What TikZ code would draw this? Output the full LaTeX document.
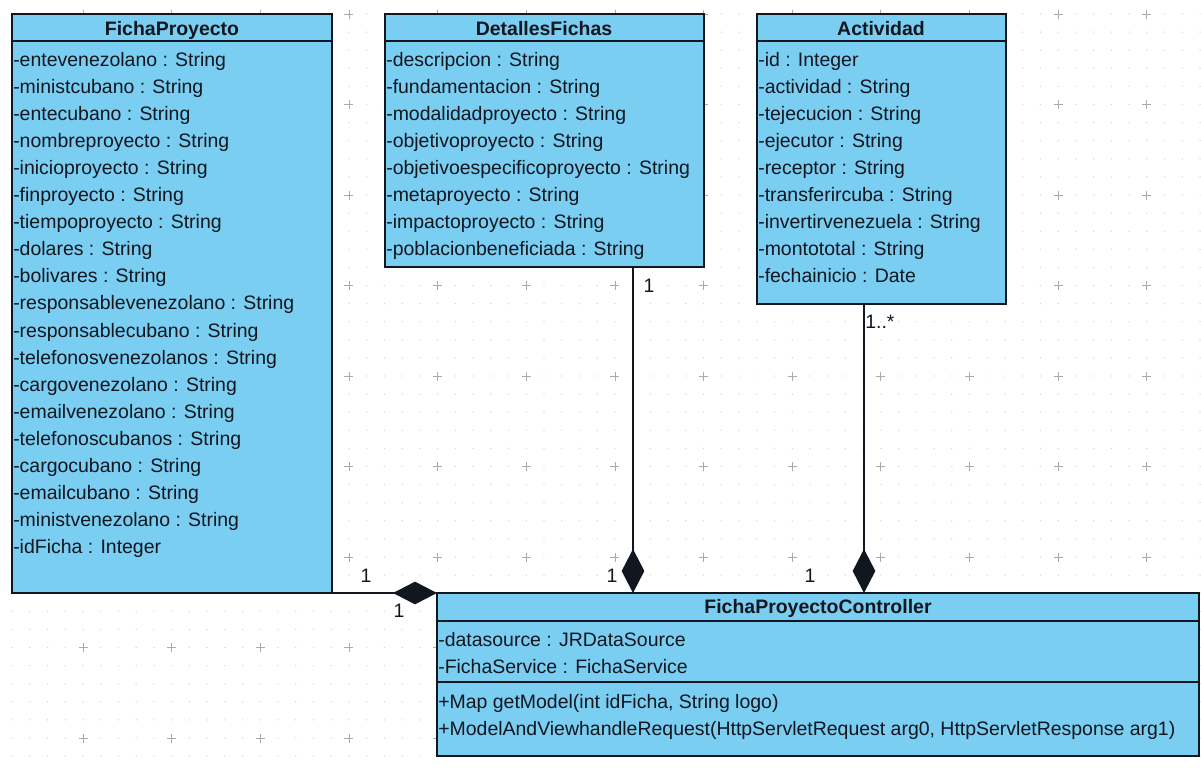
\documentclass[tikz,border=0pt]{standalone}
\usepackage{fontspec}
\setmainfont{Liberation Sans}
\usetikzlibrary{arrows.meta}

\definecolor{classfill}{RGB}{122,206,242}
\definecolor{ink}{RGB}{18,22,30}
\definecolor{gridplus}{RGB}{170,170,170}
\definecolor{griddot}{RGB}{212,212,212}

\newcommand{\umlfont}{\fontsize{14.6}{18}\selectfont}

\tikzset{
  umlbox/.style={draw=ink, fill=classfill, line width=1.4pt, inner sep=0pt, outer sep=0pt, anchor=north west},
  classtitle/.style={font=\umlfont\bfseries, text=ink, anchor=base, inner sep=0pt},
  member/.style={font=\umlfont, text=ink, anchor=base west, inner sep=0pt},
  mult/.style={font=\umlfont, text=ink, anchor=base, inner sep=0pt},
  sepline/.style={draw=ink, line width=1.4pt},
  comp/.style={draw=ink, line width=1.1pt, -{Diamond[length=33pt,width=17pt,fill=ink]}},
}

\begin{document}
\begin{tikzpicture}[x=0.75pt,y=-0.75pt]
\useasboundingbox (0,0) rectangle (1201,771);
\fill[white] (0,0) rectangle (1201,771);

% drawing-canvas grid: faint dots and plus marks
\foreach \k in {-4,...,63}
  \foreach \j in {-1,...,42}
    \fill[griddot] ({83+17.73*\k},{14+18.1*\j}) circle (0.55pt);
\foreach \k in {-1,...,12}
  \foreach \j in {0,...,8}
    \draw[gridplus, line width=0.6pt]
      ({83+88.65*\k-4.5},{14+90.5*\j}) -- ++(9,0)
      ({83+88.65*\k},{14+90.5*\j-4.5}) -- ++(0,9);

% ---- FichaProyecto ----
\node[umlbox, minimum width=320*0.75pt, minimum height=579*0.75pt] (fp) at (12,14) {};
\draw[sepline] (12,41) -- (332,41);
\node[classtitle] (fp-t) at (172,35) {FichaProyecto};
\foreach \t [count=\i from 0] in {
  -entevenezolano : String,
  -ministcubano : String,
  -entecubano : String,
  -nombreproyecto : String,
  -inicioproyecto : String,
  -finproyecto : String,
  -tiempoproyecto : String,
  -dolares : String,
  -bolivares : String,
  -responsablevenezolano : String,
  -responsablecubano : String,
  -telefonosvenezolanos : String,
  -cargovenezolano : String,
  -emailvenezolano : String,
  -telefonoscubanos : String,
  -cargocubano : String,
  -emailcubano : String,
  -ministvenezolano : String,
  -idFicha : Integer}
  \node[member] (fp-a\i) at (13,66+27.1*\i) {\t};

% ---- DetallesFichas ----
\node[umlbox, minimum width=319*0.75pt, minimum height=253*0.75pt] (df) at (385,14) {};
\draw[sepline] (385,41) -- (704,41);
\node[classtitle] (df-t) at (544,35) {DetallesFichas};
\foreach \t [count=\i from 0] in {
  -descripcion : String,
  -fundamentacion : String,
  -modalidadproyecto : String,
  -objetivoproyecto : String,
  -objetivoespecificoproyecto : String,
  -metaproyecto : String,
  -impactoproyecto : String,
  -poblacionbeneficiada : String}
  \node[member] (df-a\i) at (386,66+27.1*\i) {\t};

% ---- Actividad ----
\node[umlbox, minimum width=249*0.75pt, minimum height=290*0.75pt] (ac) at (757,14) {};
\draw[sepline] (757,41) -- (1006,41);
\node[classtitle] (ac-t) at (881,35) {Actividad};
\foreach \t [count=\i from 0] in {
  -id : Integer,
  -actividad : String,
  -tejecucion : String,
  -ejecutor : String,
  -receptor : String,
  -transferircuba : String,
  -invertirvenezuela : String,
  -montototal : String,
  -fechainicio : Date}
  \node[member] (ac-a\i) at (758,66+27.1*\i) {\t};

% ---- FichaProyectoController ----
\node[umlbox, minimum width=762*0.75pt, minimum height=163*0.75pt] (ct) at (437,593) {};
\draw[sepline] (437,621) -- (1199,621);
\draw[sepline] (437,682) -- (1199,682);
\node[classtitle] (ct-t) at (818,613) {FichaProyectoController};
\node[member] (ct-a0) at (438,646) {-datasource : JRDataSource};
\node[member] (ct-a1) at (438,673) {-FichaService : FichaService};
\node[member] (ct-m0) at (438,708) {+Map getModel(int idFicha, String logo)};
\node[member] (ct-m1) at (438,735) {+ModelAndViewhandleRequest(HttpServletRequest arg0, HttpServletResponse arg1)};

% ---- compositions ----
\draw[comp] (fp.south east) -- (ct.north west);
\coordinate (df-port) at (633,267);
\draw[comp] (df-port) -- (df-port |- ct.north);
\coordinate (ac-port) at (864,304);
\draw[comp] (ac-port) -- (ac-port |- ct.north);

% ---- multiplicities ----
\node[mult] (m-fp) at (366,582) {1};
\node[mult] (m-ct1) at (399,617) {1};
\node[mult] (m-df) at (649,292) {1};
\node[mult] (m-ct2) at (612,582) {1};
\node[mult, anchor=base west] (m-ac) at (865,328) {1..*};
\node[mult] (m-ct3) at (810,582) {1};
\end{tikzpicture}
\end{document}
